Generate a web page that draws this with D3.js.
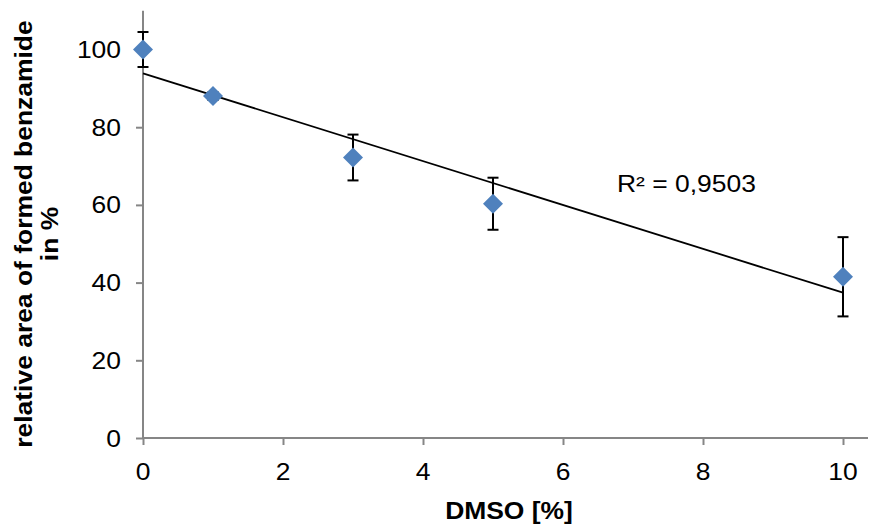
<!DOCTYPE html>
<html><head><meta charset="utf-8">
<script src="https://cdn.jsdelivr.net/npm/d3@7"></script>
<style>body{margin:0;background:#fff}svg{display:block}text{font-family:"Liberation Sans",Arial,sans-serif;fill:#000}</style>
</head><body>
<svg id="chart" width="870" height="531"></svg>
<script>
// ---- data ----
const dmso = [0, 1, 3, 5, 10];
const area = [100, 88, 72.2, 60.3, 41.5];
const errs = [4.5, 1, 5.9, 6.7, 10.2];
const xTicks = [0, 2, 4, 6, 8, 10];
const yTicks = [0, 20, 40, 60, 80, 100];
const xTitle = "DMSO [%]";
const yTitle = ["relative area of formed benzamide", "in %"];
const r2Label = "R² = 0,9503";

const svg = d3.select("#chart");
const W = 870, H = 531;
const SX = 1.15, FS = 23;
const axisColor = "#868686";

const x = d3.scaleLinear().domain([0, 10]).range([143, 843]);
const y = d3.scaleLinear().domain([0, 100]).range([438, 49.5]);

// axes
const gx = svg.append("g").attr("transform", `translate(0,${y(0)})`)
  .call(d3.axisBottom(x).tickValues(xTicks).tickSize(7).tickSizeOuter(0).tickFormat(""));
gx.select(".domain").attr("d", `M${x(0)},0H868`);
const gy = svg.append("g").attr("transform", `translate(${x(0)},0)`)
  .call(d3.axisLeft(y).tickValues(yTicks).tickSize(7).tickSizeOuter(0).tickFormat(""));
gy.select(".domain").attr("d", `M0,${y(110)}V${y(0)}`);
svg.selectAll(".domain, .tick line").attr("stroke", axisColor).attr("stroke-width", 2);

function label(g, tx, ty, txt, anchor, size, weight) {
  return g.append("text")
    .attr("transform", `translate(${tx},${ty}) scale(${SX},1)`)
    .attr("text-anchor", anchor)
    .attr("font-size", size)
    .attr("font-weight", weight || "normal")
    .text(txt);
}
yTicks.forEach(v => label(svg, 121, y(v) + 8.5, v, "end", FS));
xTicks.forEach(v => label(svg, x(v), y(0) + 42, v, "middle", FS));
label(svg, 509, 518.5, xTitle, "middle", FS, "bold");

const yt = svg.append("g").attr("transform", "translate(0,234) rotate(-90)");
yt.append("text").attr("transform", `translate(0,32) scale(${SX},1)`)
  .attr("text-anchor", "middle").attr("font-size", FS).attr("font-weight", "bold").text(yTitle[0]);
yt.append("text").attr("transform", `translate(0,58) scale(${SX},1)`)
  .attr("text-anchor", "middle").attr("font-size", FS).attr("font-weight", "bold").text(yTitle[1]);

// linear trendline from data
const mx = d3.mean(dmso), my = d3.mean(area);
const slope = d3.sum(dmso, (d, i) => (d - mx) * (area[i] - my)) / d3.sum(dmso, d => (d - mx) ** 2);
const icpt = my - slope * mx;
svg.append("line")
  .attr("x1", x(0)).attr("y1", y(icpt))
  .attr("x2", x(10)).attr("y2", y(icpt + slope * 10))
  .attr("stroke", "#000").attr("stroke-width", 1.8);

// error bars
const pts = dmso.map((d, i) => ({x: d, y: area[i], e: errs[i]}));
const eb = svg.append("g").attr("stroke", "#000").attr("stroke-width", 2);
pts.forEach(p => {
  eb.append("line").attr("x1", x(p.x)).attr("x2", x(p.x)).attr("y1", y(p.y + p.e)).attr("y2", y(p.y - p.e));
  [p.y + p.e, p.y - p.e].forEach(v =>
    eb.append("line").attr("x1", x(p.x) - 5.5).attr("x2", x(p.x) + 5.5).attr("y1", y(v)).attr("y2", y(v)));
});

// markers
svg.append("g").selectAll("path").data(pts).join("path")
  .attr("d", d3.symbol(d3.symbolSquare, 200))
  .attr("transform", p => `translate(${x(p.x)},${y(p.y)}) rotate(45)`)
  .attr("fill", "#4F81BD");

label(svg, 617, 191.5, r2Label, "start", FS);
</script>
</body></html>
